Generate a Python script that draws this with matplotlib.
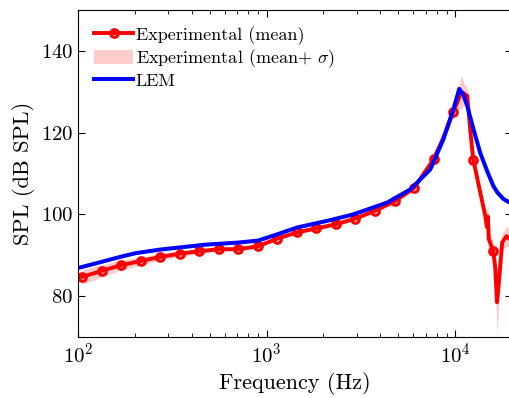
import matplotlib
matplotlib.use("Agg")
import matplotlib.pyplot as plt
import numpy as np

plt.rcParams['font.family'] = 'serif'
plt.rcParams['font.serif'] = ['cmr10']
plt.rcParams['mathtext.fontset'] = 'cm'
plt.rcParams['axes.formatter.use_mathtext'] = True

# experimental mean (Hz, dB SPL)
exp_freq = [105, 133.3, 169.2, 214.7, 272.5, 345.9, 439.0, 557.3, 707.3, 897.8,
            1139.5, 1446.5, 1835.9, 2330.4, 2957.9, 3754.6, 4764.5, 6047.6, 7675.9,
            8600, 9744, 10373, 10760, 11160, 11580, 12012, 12460, 13408, 14427,
            14700, 14900, 15050, 15906, 16290, 16640, 17000, 17740, 18700, 19600, 20000]
exp_spl = [84.7, 86.2, 87.6, 88.6, 89.6, 90.4, 91.0, 91.5, 91.5, 92.2,
           94.1, 95.6, 96.6, 97.6, 99.0, 100.9, 103.2, 106.5, 113.5,
           118.5, 125.1, 128.0, 130.0, 129.5, 129.0, 120.5, 113.4, 106.5, 99.6,
           97.0, 99.5, 94.0, 91.0, 87.0, 78.5, 83.0, 93.2, 94.7, 93.9, 93.5]
exp_std = [1.8, 1.5, 1.2, 1.0, 0.8, 0.7, 0.6, 0.5, 0.5, 0.5,
           0.5, 0.5, 0.5, 0.5, 0.5, 0.5, 0.6, 0.7, 0.8,
           1.0, 1.5, 2.5, 4.0, 2.5, 2.0, 1.5, 1.2, 1.2, 1.5,
           4.0, 3.0, 3.0, 2.0, 2.5, 8.0, 5.0, 2.0, 2.5, 2.0, 2.0]
marker_idx = [0, 1, 2, 3, 4, 5, 6, 7, 8, 9, 10, 11, 12, 13, 14, 15, 16, 17, 18, 20, 26, 32]

# lumped element model
lem_freq = [100, 130.8, 167, 200.6, 272, 472, 700, 900, 1100, 1451, 2172, 2877, 4359,
            5772, 7370, 8636, 9759, 10501, 11025, 11580, 12460, 13570, 14785,
            15906, 16710, 17970, 19580, 20000]
lem_spl = [86.9, 88.3, 89.6, 90.5, 91.4, 92.6, 93.1, 93.6, 94.9, 96.8, 98.6, 100.0, 102.9,
           106.1, 111.0, 118.3, 125.6, 130.7, 129.3, 126.5, 121.0, 115.0, 110.5,
           107.0, 105.4, 103.8, 102.8, 102.6]

fig = plt.figure(figsize=(5.1, 3.98), dpi=100)
ax = fig.add_axes([0.153, 0.153, 0.851, 0.822])

lo = np.array(exp_spl) - np.array(exp_std)
hi = np.array(exp_spl) + np.array(exp_std)
band = ax.fill_between(exp_freq, lo, hi, color=(1, 0.8, 0.8), lw=0,
                       label=r'Experimental (mean+ $\sigma$)')
red, = ax.plot(exp_freq, exp_spl, color='red', lw=2.8, marker='o', ms=5.5,
               mfc='none', mec='red', mew=2.2, markevery=marker_idx,
               label='Experimental (mean)')
blue, = ax.plot(lem_freq, lem_spl, color='blue', lw=2.9, label='LEM')

ax.set_xscale('log')
ax.set_xlim(100, 2e4)
ax.set_ylim(70, 150)
ax.set_yticks([80, 100, 120, 140])
ax.tick_params(which='both', direction='in', top=True, right=True, labelsize=15)
ax.tick_params(which='major', length=5)
ax.tick_params(which='minor', length=3)
ax.set_xlabel('Frequency (Hz)', fontsize=16)
ax.set_ylabel('SPL (dB SPL)', fontsize=16)

ax.legend([red, band, blue], [red.get_label(), band.get_label(), blue.get_label()],
          loc='upper left', frameon=False, fontsize=13, handlelength=2.15,
          handleheight=0.88, borderaxespad=0.5, labelspacing=0.14,
          handletextpad=0.15)

fig.savefig('out.png', dpi=100)
